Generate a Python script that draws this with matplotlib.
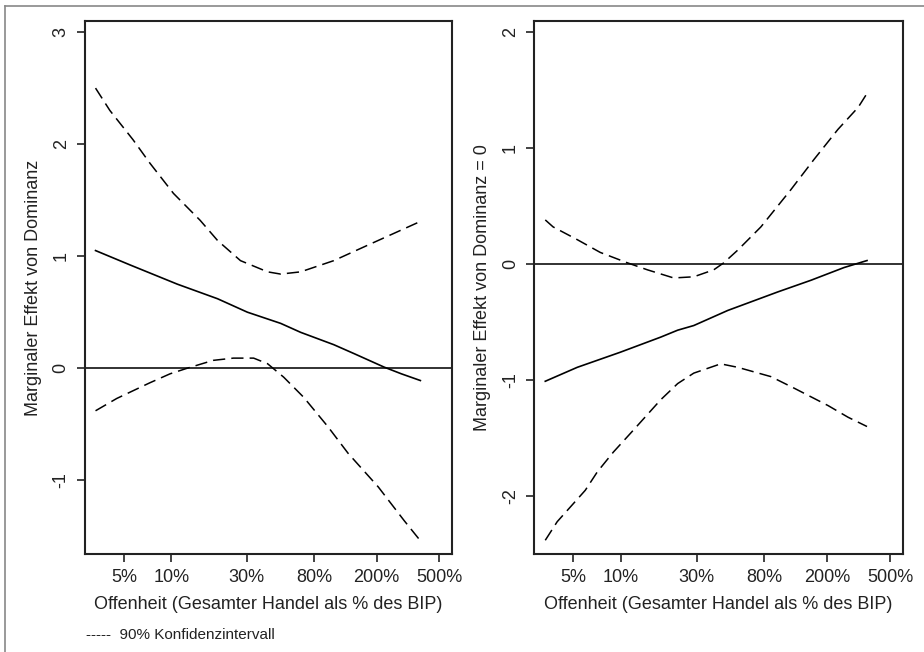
import numpy as np
import matplotlib.pyplot as plt
from matplotlib.lines import Line2D

plt.rcParams['font.family'] = ['Liberation Sans', 'DejaVu Sans']

ticks = [5, 10, 30, 80, 200, 500]
tick_labels = ['5%', '10%', '30%', '80%', '200%', '500%']

# linkes Panel: Marginaler Effekt von Dominanz
l_mid_x = [3.3, 5.5, 10.9, 19.6, 30.3, 49.3, 66, 107, 144, 223, 287, 379]
l_mid_y = [1.05, 0.92, 0.75, 0.62, 0.50, 0.40, 0.32, 0.21, 0.13, 0.01, -0.05, -0.11]

l_up_x = [3.3, 4.07, 5.7, 7.3, 10.3, 15.2, 19.6, 27.4, 40.7, 49.3, 66, 107, 177, 379]
l_up_y = [2.50, 2.30, 2.04, 1.83, 1.56, 1.32, 1.14, 0.96, 0.86, 0.84, 0.86, 0.96, 1.10, 1.31]

l_lo_x = [3.3, 4.5, 7.3, 9.8, 12.6, 18.4, 24.7, 33.2, 40.7, 51.5, 69, 98, 132, 205, 299, 379]
l_lo_y = [-0.38, -0.27, -0.13, -0.05, 0.0, 0.07, 0.09, 0.09, 0.04, -0.08, -0.26, -0.52,
          -0.76, -1.06, -1.36, -1.54]

# rechtes Panel: Marginaler Effekt von Dominanz = 0
r_mid_x = [3.33, 5.3, 9.9, 17.8, 22.8, 28.8, 47.2, 97.8, 158, 256, 357]
r_mid_y = [-1.01, -0.89, -0.76, -0.63, -0.57, -0.53, -0.40, -0.24, -0.14, -0.03, 0.03]

r_up_x = [3.33, 3.73, 5.3, 7.4, 11.0, 14.7, 21.5, 28.8, 38.5, 44.5, 54.6, 76.4, 118, 165, 234, 314, 357]
r_up_y = [0.38, 0.32, 0.21, 0.10, 0.01, -0.05, -0.12, -0.11, -0.05, 0.01, 0.12, 0.32,
          0.64, 0.90, 1.16, 1.35, 1.47]

r_lo_x = [3.33, 3.96, 5.95, 7.1, 8.96, 12.0, 17.8, 22.8, 28.8, 42.6, 54.6, 88.3, 124, 203, 271, 357]
r_lo_y = [-2.38, -2.22, -1.95, -1.79, -1.62, -1.43, -1.17, -1.03, -0.94, -0.86, -0.89,
          -0.97, -1.07, -1.22, -1.32, -1.40]

fig = plt.figure(figsize=(9.24, 6.52), dpi=100)

ax1 = fig.add_axes([0.092, 0.150, 0.397, 0.818])
ax2 = fig.add_axes([0.578, 0.150, 0.399, 0.818])

panels = [
    (ax1, l_mid_x, l_mid_y, l_up_x, l_up_y, l_lo_x, l_lo_y, (-1.66, 3.1), [-1, 0, 1, 2, 3],
     'Marginaler Effekt von Dominanz'),
    (ax2, r_mid_x, r_mid_y, r_up_x, r_up_y, r_lo_x, r_lo_y, (-2.5, 2.095), [-2, -1, 0, 1, 2],
     'Marginaler Effekt von Dominanz = 0'),
]

for ax, mx, my, ux, uy, lx, ly, ylim, yt, ylab in panels:
    ax.axhline(0, color='#222222', lw=1.3)
    ax.plot(mx, my, color='black', lw=1.2)
    ax.plot(ux, uy, color='black', lw=1.1, dashes=(8, 4))
    ax.plot(lx, ly, color='black', lw=1.1, dashes=(8, 4))
    ax.set_xscale('log')
    ax.set_xlim(2.83, 600)
    ax.set_ylim(*ylim)
    ax.set_xticks(ticks)
    ax.set_xticklabels(tick_labels)
    ax.minorticks_off()
    ax.set_yticks(yt)
    ax.set_yticklabels([str(v) for v in yt], rotation=90, va='center')
    ax.tick_params(labelsize=13, length=6, width=1.2, colors='#222222', pad=5)
    for s in ax.spines.values():
        s.set_linewidth(1.5)
        s.set_color('#222222')
    ax.set_xlabel('Offenheit (Gesamter Handel als % des BIP)', fontsize=13, color='#222222', labelpad=7)
    ax.set_ylabel(ylab, fontsize=13, color='#222222', labelpad=8)

fig.text(0.093, 0.020, '-----  90% Konfidenzintervall', fontsize=11, color='#222222')

# Rahmen oben und links
fig.add_artist(Line2D([5 / 924, 1], [1 - 6 / 652, 1 - 6 / 652], transform=fig.transFigure,
                      color='#888888', lw=1.2))
fig.add_artist(Line2D([5 / 924, 5 / 924], [0, 1 - 6 / 652], transform=fig.transFigure,
                      color='#888888', lw=1.2))

fig.savefig('out.png', dpi=100)
